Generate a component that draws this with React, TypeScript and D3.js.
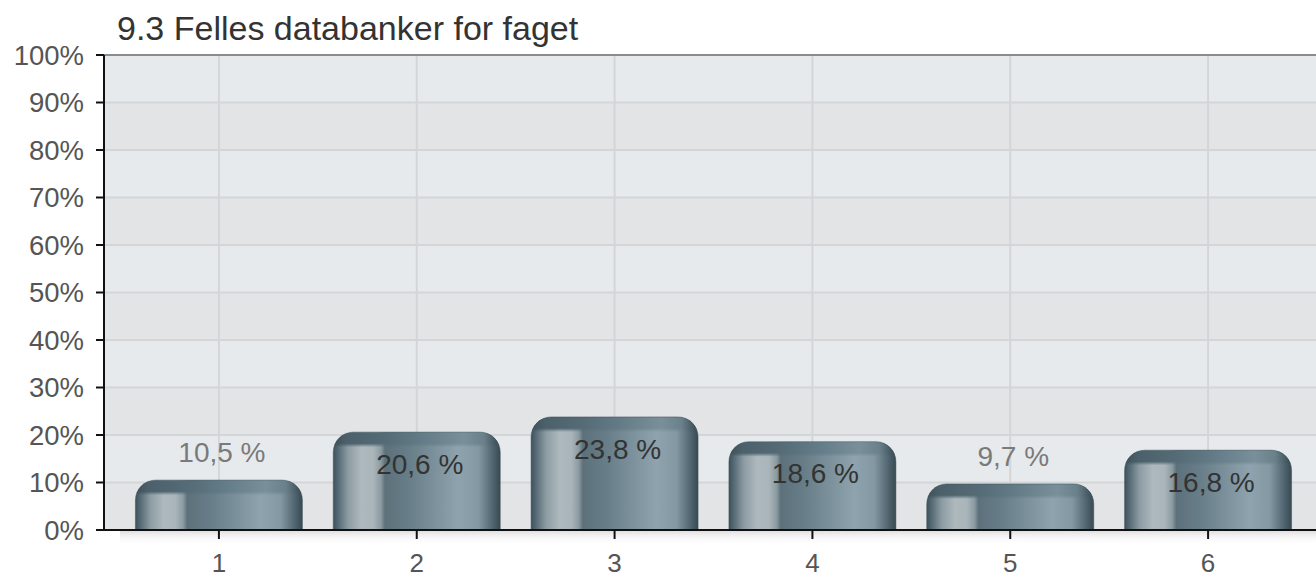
import React from "react";
import * as d3 from "d3";

const title = "9.3 Felles databanker for faget";
const categories = ["1", "2", "3", "4", "5", "6"];
const values = [10.5, 20.6, 23.8, 18.6, 9.7, 16.8];
const yTicks = [0, 10, 20, 30, 40, 50, 60, 70, 80, 90, 100];

const W = 1316;
const H = 578;
const plotLeft = 104;
const plotTop = 55;
const plotBottom = 530;
const bandLeft = 120;
const bandRight = 1307;

export default function App() {
  const x = d3
    .scaleBand<string>()
    .domain(categories)
    .range([bandLeft, bandRight])
    .paddingInner(0.156)
    .paddingOuter(0.078);
  const y = d3.scaleLinear().domain([0, 100]).range([plotBottom, plotTop]);
  const r = 20;
  const capH = 15;
  const font = "'Liberation Sans', Arial, Helvetica, sans-serif";

  const barPath = (x0: number, w: number, top: number, bottom: number) => {
    const p = d3.path();
    const rr = Math.min(r, bottom - top, w / 2);
    p.moveTo(x0, bottom);
    p.lineTo(x0, top + rr);
    p.arcTo(x0, top, x0 + rr, top, rr);
    p.lineTo(x0 + w - rr, top);
    p.arcTo(x0 + w, top, x0 + w, top + rr, rr);
    p.lineTo(x0 + w, bottom);
    p.closePath();
    return p.toString();
  };

  const bands = yTicks.slice(0, -1).map((t, i) => ({ t, i }));

  return (
    <svg width={W} height={H} style={{ position: "absolute", left: 0, top: 0, background: "#fff" }}>
      <defs>
        <linearGradient id="body" x1="0" x2="1" y1="0" y2="0">
          <stop offset="0" stopColor="#3e525c" />
          <stop offset="0.03" stopColor="#566b75" />
          <stop offset="0.09" stopColor="#8d9ca3" />
          <stop offset="0.17" stopColor="#aeb9be" />
          <stop offset="0.24" stopColor="#a9b5ba" />
          <stop offset="0.285" stopColor="#8c9ba2" />
          <stop offset="0.31" stopColor="#5d717b" />
          <stop offset="0.45" stopColor="#677d87" />
          <stop offset="0.75" stopColor="#8ea3ad" />
          <stop offset="0.87" stopColor="#8398a2" />
          <stop offset="0.95" stopColor="#536872" />
          <stop offset="1" stopColor="#384a53" />
        </linearGradient>
        <linearGradient id="cap" x1="0" x2="1" y1="0" y2="0">
          <stop offset="0" stopColor="#3d515b" />
          <stop offset="0.08" stopColor="#4b606a" />
          <stop offset="0.3" stopColor="#546b76" />
          <stop offset="0.5" stopColor="#617984" />
          <stop offset="0.78" stopColor="#79909b" />
          <stop offset="0.9" stopColor="#6a818c" />
          <stop offset="0.96" stopColor="#4a5e68" />
          <stop offset="1" stopColor="#384a53" />
        </linearGradient>
        <linearGradient id="capMaskGrad" x1="0" x2="0" y1="0" y2="1">
          <stop offset="0" stopColor="#fff" />
          <stop offset="0.75" stopColor="#fff" />
          <stop offset="1" stopColor="#000" />
        </linearGradient>
        <linearGradient id="shadow" x1="0" x2="0" y1="0" y2="1">
          <stop offset="0" stopColor="#d8d8d8" stopOpacity="0.8" />
          <stop offset="1" stopColor="#ffffff" stopOpacity="0" />
        </linearGradient>
      </defs>

      <text x={117} y={40} fontFamily={font} fontSize={34} fill="#333">
        {title}
      </text>

      {/* background bands */}
      {bands.map(({ t, i }) => (
        <rect
          key={"b" + t}
          x={plotLeft}
          y={y(t + 10)}
          width={W - plotLeft}
          height={y(t) - y(t + 10)}
          fill={i % 2 === 0 ? "#e3e4e6" : "#e7eaed"}
        />
      ))}

      {/* horizontal grid */}
      {yTicks.slice(1, -1).map((t) => (
        <line key={"h" + t} x1={plotLeft} x2={W} y1={y(t)} y2={y(t)} stroke="#d4d5d7" strokeWidth={2} />
      ))}
      {/* vertical grid */}
      {categories.map((c) => {
        const cx = (x(c) as number) + x.bandwidth() / 2;
        return <line key={"v" + c} x1={cx} x2={cx} y1={plotTop} y2={plotBottom} stroke="#d4d5d7" strokeWidth={2} />;
      })}
      {/* top border */}
      <line x1={plotLeft} x2={W} y1={plotTop} y2={plotTop} stroke="#8c8c8c" strokeWidth={2} />

      {/* shadow below x axis */}
      <rect x={bandLeft} y={plotBottom + 1} width={W - bandLeft} height={14} fill="url(#shadow)" />

      {/* bars */}
      {values.map((v, i) => {
        const c = categories[i];
        const x0 = x(c) as number;
        const w = x.bandwidth();
        const top = y(v);
        const id = "m" + i;
        const d = barPath(x0, w, top, plotBottom);
        return (
          <g key={"bar" + c}>
            <mask id={id} maskUnits="userSpaceOnUse" x={x0} y={top} width={w} height={capH}>
              <rect x={x0} y={top} width={w} height={capH} fill="url(#capMaskGrad)" />
            </mask>
            <path d={d} fill="url(#body)" />
            <path d={d} fill="url(#cap)" mask={`url(#${id})`} />
            <path d={d} fill="none" stroke="#3a4d56" strokeOpacity={0.5} strokeWidth={1} />
          </g>
        );
      })}

      {/* value labels */}
      {values.map((v, i) => {
        const c = categories[i];
        const cx = (x(c) as number) + x.bandwidth() / 2 + 3;
        const inside = v >= 15;
        const cy = inside ? y(v) + 32 : y(v) - 28;
        return (
          <text
            key={"l" + c}
            x={cx}
            y={cy}
            dy="0.35em"
            textAnchor="middle"
            fontFamily={font}
            fontSize={28}
            fill={inside ? "#333" : "#7a7a7a"}
          >
            {v.toFixed(1).replace(".", ",") + " %"}
          </text>
        );
      })}

      {/* y axis */}
      <line x1={plotLeft} x2={plotLeft} y1={plotTop} y2={plotBottom + 1} stroke="#111" strokeWidth={2} />
      {yTicks.map((t) => (
        <g key={"yt" + t}>
          <line x1={96} x2={plotLeft} y1={y(t)} y2={y(t)} stroke="#111" strokeWidth={2} />
          <text
            x={84}
            y={y(t)}
            dy="0.36em"
            textAnchor="end"
            fontFamily={font}
            fontSize={27.5}
            fill="#555"
          >
            {t + "%"}
          </text>
        </g>
      ))}

      {/* x axis */}
      <line x1={plotLeft - 8} x2={W} y1={plotBottom} y2={plotBottom} stroke="#111" strokeWidth={2} />
      {categories.map((c) => {
        const cx = (x(c) as number) + x.bandwidth() / 2;
        return (
          <g key={"xt" + c}>
            <line x1={cx} x2={cx} y1={plotBottom} y2={plotBottom + 9} stroke="#111" strokeWidth={2} />
            <text x={cx} y={572} textAnchor="middle" fontFamily={font} fontSize={26} fill="#555">
              {c}
            </text>
          </g>
        );
      })}
    </svg>
  );
}
